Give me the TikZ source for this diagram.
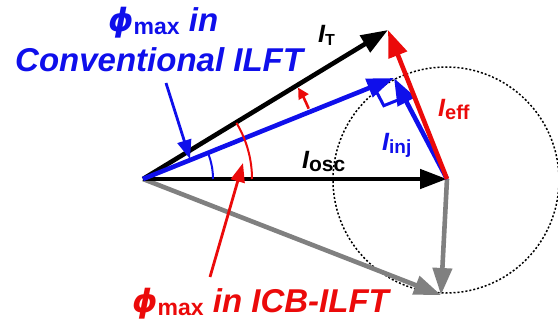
\documentclass[tikz,border=0pt]{standalone}
\usepackage{fontspec}
\setmainfont{Liberation Sans}
\newfontfamily\phifont{DejaVu Sans}
\usepackage{tikz}
\usetikzlibrary{arrows.meta,calc}
\usepackage{xcolor}
\definecolor{vblue}{RGB}{15,15,235}
\definecolor{vred}{RGB}{235,10,10}
\definecolor{vgray}{RGB}{128,128,128}

\newcommand{\Ilbl}[2][20]{{\fontsize{25}{25}\selectfont\bfseries\itshape I}%
  {\fontsize{#1}{#1}\selectfont\bfseries\upshape\raisebox{-3pt}{#2}}}
\newcommand{\phimax}{{\fontsize{32}{32}\selectfont\phifont\bfseries\itshape ϕ}%
  {\fontsize{23}{23}\selectfont\bfseries\upshape\raisebox{-3pt}{max}}}

\begin{document}
\begin{tikzpicture}[
  x=1pt, y=-1pt,
  phasor/.style={line width=4.6pt, -{Triangle[length=27pt,width=19pt]}},
  pointer/.style={line width=2.8pt, -{Triangle[length=19pt,width=14pt]}},
  anglearc/.style={line width=2pt},
  lbl/.style={anchor=base west, inner sep=0pt},
  big/.style={font=\fontsize{33}{36}\selectfont\bfseries\itshape},
]
\useasboundingbox (0,0) rectangle (558,321);

\coordinate (O) at (143,179);
\coordinate (C) at (447,179);
\coordinate (T) at (388,30);
\coordinate (P) at (394,78);
\coordinate (G) at (441,295);

\draw[dash pattern=on 2pt off 2pt, line width=1.5pt] (446,180) circle[radius=113];

\draw[phasor, vgray] (O) -- (G);
\draw[phasor, vgray] (C) -- (G);
\draw[phasor, black] (O) -- (C);
\draw[phasor, black] (O) -- (T);
\draw[phasor, vblue] (O) -- (P);
\draw[phasor, vblue] (C) -- (P);
\draw[phasor, vred] (C) -- (T);

\coordinate (ru) at ($(P)!22pt!(O)$);
\coordinate (rv) at ($(P)!22pt!(C)$);
\coordinate (rw) at ($(ru)+(rv)-(P)$);
\draw[vblue, line width=3pt] (ru) -- (rw) -- (rv);

\draw[anglearc, vblue] ($(O)+(70,0)$) arc[start angle=0, end angle=-22, radius=70];
\draw[anglearc, vred] ($(O)+(109,0)$) arc[start angle=0, end angle=-31, radius=109];
\draw[vred, line width=2.6pt, -{Triangle[length=11pt,width=11pt]}]
  ($(O)+(-23:180)$) arc[start angle=-23, end angle=-30.5, radius=180];

\coordinate (bluefrom) at (166,83);
\coordinate (blueto) at (190,159);
\coordinate (redfrom) at (210,277);
\coordinate (redto) at (243,163);
\draw[pointer, vblue] (bluefrom) -- (blueto);
\draw[pointer, vred] (redfrom) -- (redto);

\node[lbl, vblue, big] (phiconv) at (108,32) {\phimax\ in};
\node[lbl, vblue, big] (convlbl) at (15,72) {Conventional ILFT};
\node[lbl, vred, big] (phiicb) at (132,312) {\phimax\ in ICB-ILFT};

\node[lbl, black] (itlbl) at (318,43) {\Ilbl[16]{T}};
\node[lbl, vred] (iefflbl) at (438,117) {\Ilbl{eff}};
\node[lbl, vblue] (iinjlbl) at (382,150) {\Ilbl[19]{inj}};
\node[lbl, black] (ioscllbl) at (302,168) {\Ilbl[21]{osc}};
\end{tikzpicture}
\end{document}
